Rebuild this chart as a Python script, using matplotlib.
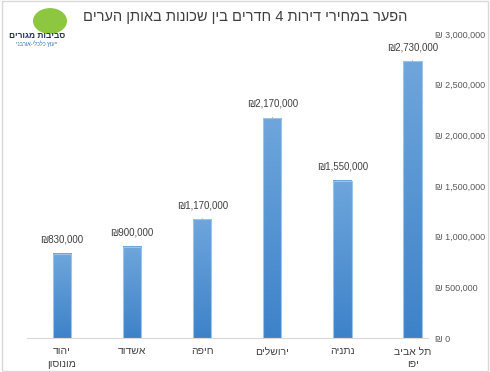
import numpy as np
import matplotlib.pyplot as plt
from matplotlib.colors import LinearSegmentedColormap
from matplotlib.patches import Circle, Rectangle

plt.rcParams['font.family'] = ['Liberation Sans', 'DejaVu Sans']

# data (left to right as drawn, chart is right-to-left)
cities = ['יהוד\nמונוסון', 'אשדוד', 'חיפה', 'ירושלים', 'נתניה', 'תל אביב\nיפו']
prices = [830000, 900000, 1170000, 2170000, 1550000, 2730000]
yticks = [0, 500000, 1000000, 1500000, 2000000, 2500000, 3000000]
title = 'הפער במחירי דירות 4 חדרים בין שכונות באותן הערים'


def rtl(s):
    # matplotlib has no bidi, so flip each line by hand
    return '\n'.join(line[::-1] for line in s.split('\n'))


fig = plt.figure(figsize=(4.9, 3.72), dpi=100)
fig.patch.set_facecolor('white')
fig.add_artist(Rectangle((0.004, 0.004), 0.992, 0.992, transform=fig.transFigure,
                         fill=False, edgecolor='#d9d9d9', linewidth=1))

ax = fig.add_axes([27 / 490, 1 - 338 / 372, 401 / 490, 304 / 372])
ax.set_facecolor('white')

cmap = LinearSegmentedColormap.from_list('bar', ['#3d82c9', '#6ea6dc'])
grad = np.linspace(0, 1, 256).reshape(-1, 1)
w = 0.26
x = np.arange(len(prices))
for xi, v in zip(x, prices):
    ax.imshow(grad, extent=[xi - w / 2, xi + w / 2, 0, v], origin='lower',
              cmap=cmap, aspect='auto', zorder=2)
bars = ax.bar(x, prices, width=w, facecolor='none', edgecolor='#9cc3e8',
              linewidth=0.8, zorder=3)

for xi, v in zip(x, prices):
    ax.annotate('₪' + f'{v:,}', xy=(xi, v), xytext=(xi, v + 140000),
                ha='center', va='center', fontsize=7, color='#404040',
                arrowprops=dict(arrowstyle='-', color='#a6a6a6', lw=0.6,
                                shrinkA=4, shrinkB=0))

ax.set_xlim(-0.5, 5.22)
ax.set_ylim(0, 3000000)
ax.set_xticks(x)
ax.set_xticklabels([rtl(c) for c in cities], fontsize=7.5, color='#404040',
                   linespacing=1.3)
ax.yaxis.tick_right()
ax.set_yticks(yticks)
ax.set_yticklabels(['₪ ' + f'{t:,}' for t in yticks], fontsize=6.5, color='#595959')
ax.tick_params(length=0, pad=5)
ax.tick_params(axis='x', pad=6)
for s in ['top', 'left', 'right']:
    ax.spines[s].set_visible(False)
ax.spines['bottom'].set_color('#d9d9d9')

fig.text(245 / 490, 1 - 17 / 372, rtl(title), ha='center', va='center',
         fontsize=10.5, color='#404040')

# logo
fig.add_artist(Circle((50 / 490, 1 - 21 / 372), 17 / 490, transform=fig.transFigure,
                      facecolor='#8dc63f', edgecolor='none'))
fig.text(37 / 490, 1 - 36 / 372, rtl('סביבות מגורים'), ha='center', va='center',
         fontsize=6, fontweight='bold', color='#1f2d5a')
fig.text(37 / 490, 1 - 44 / 372, rtl('ייעוץ כלכלי-אורבני'), ha='center', va='center',
         fontsize=4, color='#2e75b6')

fig.savefig('out.png', dpi=100)
